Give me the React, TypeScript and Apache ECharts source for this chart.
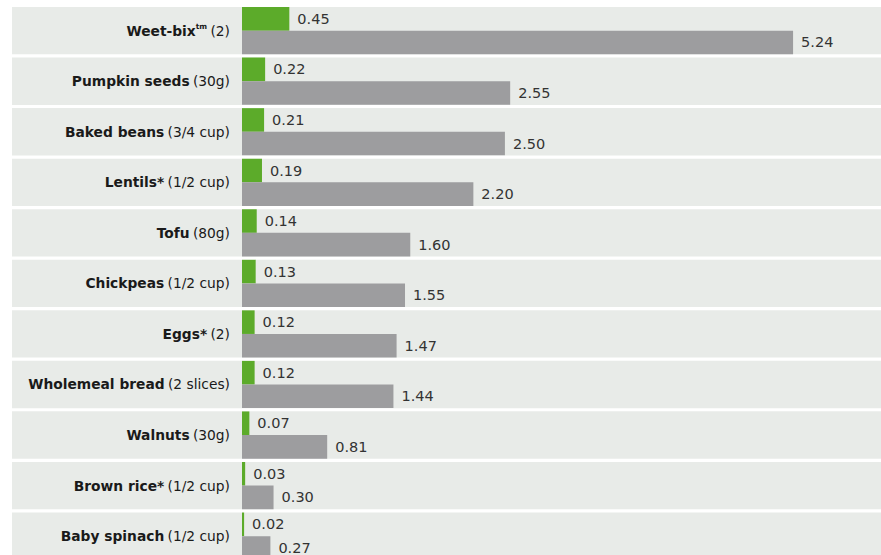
import React, { useEffect, useRef } from "react";
import * as echarts from "echarts";

const names = [
  "Weet-bix",
  "Pumpkin seeds",
  "Baked beans",
  "Lentils*",
  "Tofu",
  "Chickpeas",
  "Eggs*",
  "Wholemeal bread",
  "Walnuts",
  "Brown rice*",
  "Baby spinach",
];
const sups = ["tm", "", "", "", "", "", "", "", "", "", ""];
const portions = [
  "(2)",
  "(30g)",
  "(3/4 cup)",
  "(1/2 cup)",
  "(80g)",
  "(1/2 cup)",
  "(2)",
  "(2 slices)",
  "(30g)",
  "(1/2 cup)",
  "(1/2 cup)",
];
const greenValues = [0.45, 0.22, 0.21, 0.19, 0.14, 0.13, 0.12, 0.12, 0.07, 0.03, 0.02];
const grayValues = [5.24, 2.55, 2.5, 2.2, 1.6, 1.55, 1.47, 1.44, 0.81, 0.3, 0.27];

const categories = names.map((n, i) => `${n}|${sups[i]}|${portions[i]}`);

const FONT = "DejaVu Sans";

export default function App() {
  const ref = useRef<HTMLDivElement>(null);
  useEffect(() => {
    if (!ref.current) return;
    const chart = echarts.init(ref.current, null, { renderer: "svg" });
    const valueLabel = {
      show: true,
      position: "right" as const,
      distance: 8,
      fontFamily: FONT,
      fontSize: 14.5,
      color: "#333333",
      formatter: (p: any) => Number(p.value).toFixed(2),
    };
    chart.setOption({
      animation: false,
      backgroundColor: "#ffffff",
      grid: { left: 242, width: 631, top: 5.4, height: 556, containLabel: false },
      xAxis: {
        type: "value",
        min: 0,
        max: 6,
        show: false,
      },
      yAxis: {
        type: "category",
        inverse: true,
        data: categories,
        axisLine: { show: false },
        axisTick: { show: false },
        splitLine: { show: false },
        axisLabel: {
          margin: 12,
          formatter: (v: string) => {
            const [n, s, p] = v.split("|");
            return `{b|${n}}` + (s ? `{s|${s}}` : "") + ` {r|${p}}`;
          },
          rich: {
            b: { fontFamily: FONT, fontWeight: "bold", fontSize: 13.8, color: "#1a1a1a" },
            s: { fontFamily: FONT, fontWeight: "bold", fontSize: 7.5, color: "#1a1a1a", padding: [0, 0, 9, 0] },
            r: { fontFamily: FONT, fontSize: 13.8, color: "#1a1a1a" },
          },
        },
      },
      series: [
        {
          type: "custom",
          z: 0,
          silent: true,
          data: categories.map((c) => [0, c]),
          encode: { x: 0, y: 1 },
          renderItem: (params: any, api: any) => {
            const c = api.coord([0, api.value(1)]);
            const band = api.size([0, 1])[1];
            const h = band - 3.2;
            const cs = params.coordSys;
            return {
              type: "rect",
              shape: { x: cs.x - 230, y: c[1] - h / 2, width: cs.width + 230 + 20, height: h },
              style: { fill: "#e8ebe8" },
            };
          },
        },
        {
          type: "bar",
          name: "green",
          z: 2,
          data: greenValues,
          barWidth: 23.6,
          barGap: "0%",
          itemStyle: { color: "#5cab2a" },
          label: valueLabel,
        },
        {
          type: "bar",
          name: "gray",
          z: 2,
          data: grayValues,
          barWidth: 23.6,
          barGap: "0%",
          itemStyle: { color: "#9d9d9f" },
          label: valueLabel,
        },
      ],
    });
    return () => chart.dispose();
  }, []);
  return (
    <div
      style={{ position: "fixed", left: 0, top: 0, width: 881, height: 555, overflow: "hidden" }}
    >
      <div ref={ref} style={{ width: 881, height: 563 }} />
    </div>
  );
}
